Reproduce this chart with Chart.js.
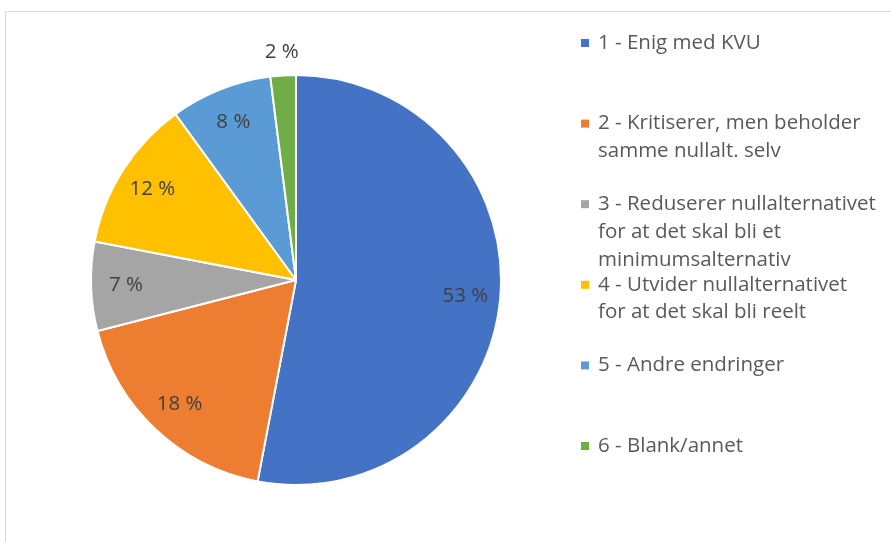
<!DOCTYPE html>
<html>
<head>
<meta charset="utf-8">
<script src="https://cdn.jsdelivr.net/npm/chart.js@4/dist/chart.umd.min.js"></script>
<style>
  html, body { margin: 0; padding: 0; background: #fff; }
  #wrap { position: relative; width: 891px; height: 542px; overflow: hidden; }
  #frame { position: absolute; left: 5px; top: 11px; width: 1000px; height: 1000px;
           border-left: 1px solid #d9d9d9; border-top: 1px solid #d9d9d9; }
  canvas { position: absolute; left: 0; top: 0; }
</style>
</head>
<body>
<div id="wrap">
  <div id="frame"></div>
  <canvas id="c" width="891" height="542"></canvas>
</div>
<script>
const categories = [
  ["1 - Enig med KVU"],
  ["2 - Kritiserer, men beholder", "samme nullalt. selv"],
  ["3 - Reduserer nullalternativet", "for at det skal bli et", "minimumsalternativ"],
  ["4 - Utvider nullalternativet", "for at det skal bli reelt"],
  ["5 - Andre endringer"],
  ["6 - Blank/annet"]
];
const shares = [53, 18, 7, 12, 8, 2];
const sliceColors = ["#4472c4", "#ed7d31", "#a5a5a5", "#ffc000", "#5b9bd5", "#70ad47"];

const FONT = "'Open Sans', 'Noto Sans', sans-serif";

const labelPlugin = {
  id: 'labelPlugin',
  afterDatasetsDraw(chart) {
    const ctx = chart.ctx;
    const meta = chart.getDatasetMeta(0);
    ctx.save();
    ctx.font = "20.5px " + FONT;
    ctx.fillStyle = "#404040";
    ctx.textAlign = "center";
    ctx.textBaseline = "middle";
    meta.data.forEach((arc, i) => {
      const p = arc.getProps(['x','y','startAngle','endAngle','outerRadius'], true);
      const mid = (p.startAngle + p.endAngle) / 2;
      const v = shares[i];
      const r = v < 5 ? p.outerRadius + 23 : p.outerRadius * 0.83;
      const x = p.x + Math.cos(mid) * r;
      const y = p.y + Math.sin(mid) * r;
      ctx.fillText(v + " %", x, y);
    });
    ctx.restore();
  },
  afterDraw(chart) {
    const ctx = chart.ctx;
    ctx.save();
    ctx.font = "20.5px " + FONT;
    ctx.textBaseline = "middle";
    ctx.textAlign = "left";
    const labels = chart.data.labels;
    const colors = chart.data.datasets[0].backgroundColor;
    labels.forEach((lab, i) => {
      const y0 = 43 + i * 80.6;
      ctx.fillStyle = colors[i];
      ctx.fillRect(581, y0 - 4, 8, 8);
      ctx.fillStyle = "#595959";
      lab.forEach((line, j) => {
        ctx.fillText(line, 598, y0 + j * 27.8);
      });
    });
    ctx.restore();
  }
};

new Chart(document.getElementById('c'), {
  type: 'pie',
  data: {
    labels: categories,
    datasets: [{
      data: shares,
      backgroundColor: sliceColors,
      borderColor: '#ffffff',
      borderWidth: 2
    }]
  },
  options: {
    responsive: false,
    animation: false,
    layout: { padding: { left: 0, right: 299, top: 74, bottom: 56 } },
    plugins: {
      legend: { display: false },
      tooltip: { enabled: false }
    }
  },
  plugins: [labelPlugin]
});
</script>
</body>
</html>
